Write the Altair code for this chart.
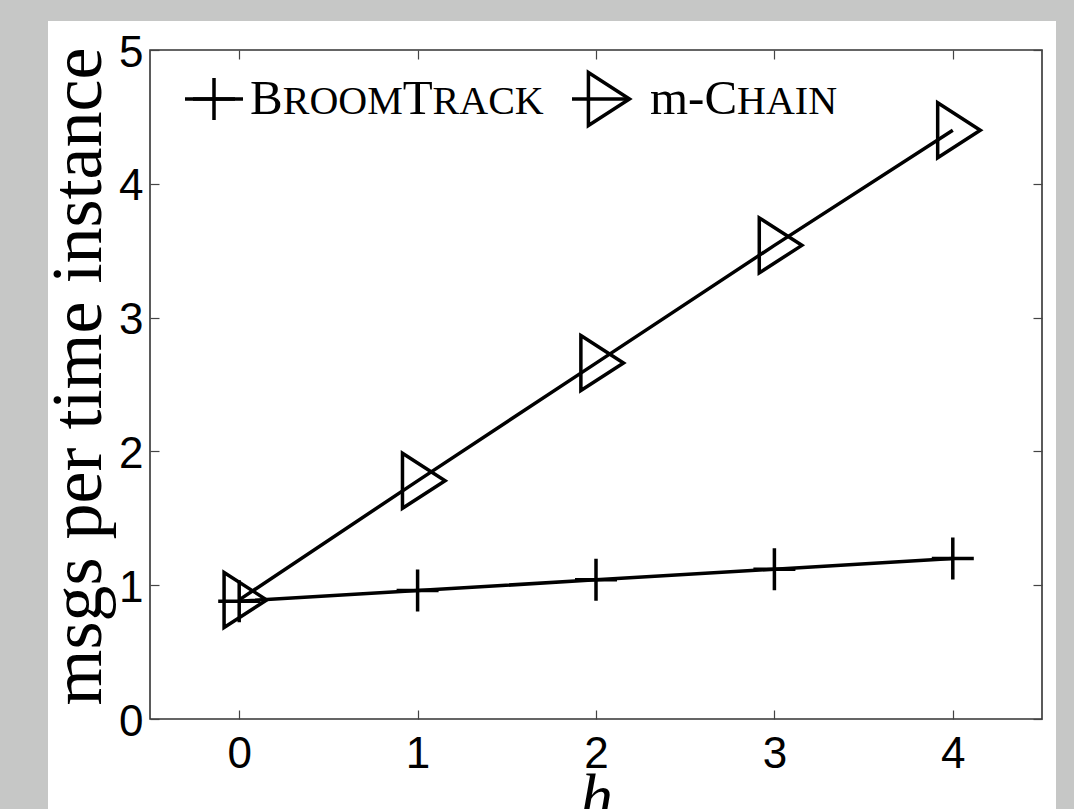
import altair as alt
import pandas as pd

# ---- data ----
h_values = [0, 1, 2, 3, 4]
broomtrack = [0.88, 0.96, 1.04, 1.12, 1.20]
mchain = [0.89, 1.78, 2.66, 3.54, 4.40]
series_names = ["BroomTrack", "m-Chain"]
x_ticks = [0, 1, 2, 3, 4]
y_ticks = [0, 1, 2, 3, 4, 5]

df = pd.DataFrame({
    "h": h_values + h_values,
    "value": broomtrack + mchain,
    "series": [series_names[0]] * len(h_values) + [series_names[1]] * len(h_values),
})
one = pd.DataFrame({"k": [0]})

W, H = 892, 669
PLUS = "M-1,0L1,0M0,-1L0,1"
TRI = "M-0.55,-1L1,0L-0.55,1Z"
INK = "black"
TICK = "#444444"
SERIF = "Liberation Serif"
SANS = "Liberation Sans"

xscale = alt.Scale(domain=[-0.5, 4.5], nice=False, zero=False)
yscale = alt.Scale(domain=[0, 5], nice=False, zero=False)

bg = alt.Chart(one).mark_rect(fill="white").encode(
    x=alt.value(-102), x2=alt.value(906), y=alt.value(-29), y2=alt.value(800)
)
frame = alt.Chart(one).mark_rect(fillOpacity=0, stroke="#333333", strokeWidth=1.6).encode(
    x=alt.value(0), x2=alt.value(W), y=alt.value(0), y2=alt.value(H)
)

x_bottom = alt.Axis(
    orient="bottom", values=x_ticks, offset=-9, tickSize=9, tickColor=TICK, tickWidth=1.2,
    domain=False, grid=False, labelFont=SANS, labelFontSize=44, labelColor=INK,
    labelPadding=13, labelFlush=False, format="d", zindex=1,
    title="h", titleFont=SERIF, titleFontStyle="italic", titleFontSize=66,
    titleFontWeight="normal", titleColor=INK, titleX=446, titleY=108,
    titleBaseline="alphabetic", titleAlign="center",
)
y_left = alt.Axis(
    orient="left", values=y_ticks, offset=-9, tickSize=9, tickColor=TICK, tickWidth=1.2,
    domain=False, grid=False, labelFont=SANS, labelFontSize=44, labelColor=INK,
    labelPadding=7, labelOffset=3, format="d", zindex=1,
    title="msgs per time instance", titleFont=SERIF, titleFontSize=72,
    titleFontWeight="normal", titleColor=INK, titleAngle=270, titleX=-59, titleY=326,
    titleBaseline="alphabetic", titleAlign="center",
)
x_top = alt.Axis(orient="top", values=x_ticks, offset=-9, tickSize=9, tickColor=TICK,
                 tickWidth=1.2, domain=False, grid=False, labels=False, title="", zindex=1)
y_right = alt.Axis(orient="right", values=y_ticks, offset=-9, tickSize=9, tickColor=TICK,
                   tickWidth=1.2, domain=False, grid=False, labels=False, title="", zindex=1)

lines = alt.Chart(df).mark_line(color=INK, strokeWidth=3.5).encode(
    x=alt.X("h:Q", scale=xscale, axis=x_bottom),
    y=alt.Y("value:Q", scale=yscale, axis=y_left),
    detail="series:N",
)
mirror = alt.Chart(df).mark_point(opacity=0).encode(
    x=alt.X("h:Q", scale=xscale, axis=x_top),
    y=alt.Y("value:Q", scale=yscale, axis=y_right),
)
pts_b = alt.Chart(df).transform_filter(alt.datum.series == series_names[0]).mark_point(
    shape=PLUS, size=1764, filled=False, strokeWidth=3.5, color=INK, opacity=1
).encode(
    x=alt.X("h:Q", scale=xscale, axis=None),
    y=alt.Y("value:Q", scale=yscale, axis=None),
)
pts_m = alt.Chart(df).transform_filter(alt.datum.series == series_names[1]).mark_point(
    shape=TRI, size=3025, filled=False, strokeWidth=3.5, color=INK, opacity=1
).encode(
    x=alt.X("h:Q", scale=xscale, axis=None),
    y=alt.Y("value:Q", scale=yscale, axis=None),
)

# ---- legend (inside, top-left) ----
leg = []
leg.append(alt.Chart(one).mark_rule(color=INK, strokeWidth=3.5).encode(
    x=alt.value(35), x2=alt.value(93), y=alt.value(49)))
leg.append(alt.Chart(one).mark_point(shape=PLUS, size=1764, filled=False, strokeWidth=3.5,
                                     color=INK, opacity=1).encode(x=alt.value(64), y=alt.value(49)))
leg.append(alt.Chart(one).mark_rule(color=INK, strokeWidth=3.5).encode(
    x=alt.value(422), x2=alt.value(478), y=alt.value(49)))
leg.append(alt.Chart(one).mark_point(shape=TRI, size=2809, filled=False, strokeWidth=3.5,
                                     color=INK, opacity=1).encode(x=alt.value(453), y=alt.value(49)))

pieces = [("B", 49, 100), ("ROOM", 40, 132.7), ("T", 49, 252.7), ("RACK", 40, 282.6),
          ("m-C", 49, 500), ("HAIN", 40, 587.1)]
for txt, fs, xp in pieces:
    leg.append(alt.Chart(one).mark_text(
        text=txt, font=SERIF, fontSize=fs, align="left", baseline="alphabetic", color=INK
    ).encode(x=alt.value(xp), y=alt.value(64)))

chart = alt.layer(bg, frame, mirror, lines, pts_b, pts_m, *leg).resolve_axis(
    x="independent", y="independent"
).properties(
    width=W, height=H,
    autosize=alt.AutoSizeParams(type="none"),
    padding={"left": 150, "top": 50, "right": 32, "bottom": 90},
    background="#c6c7c6",
).configure_view(stroke=None)

chart.save("out.html", embed_options={"renderer": "svg", "actions": False})
